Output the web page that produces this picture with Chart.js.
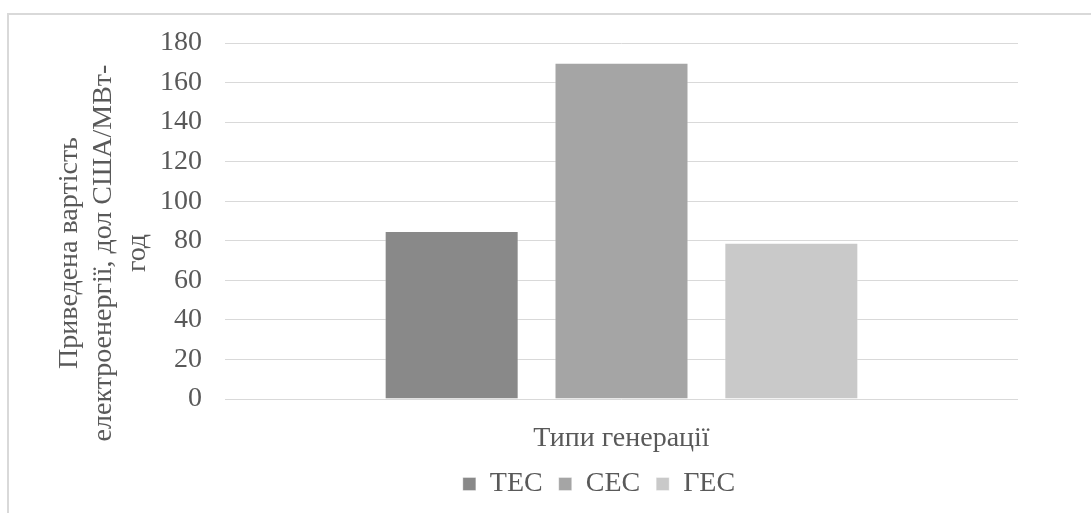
<!DOCTYPE html>
<html>
<head>
<meta charset="utf-8">
<script src="https://cdn.jsdelivr.net/npm/chart.js@4/dist/chart.umd.min.js"></script>
<style>
  html, body { margin: 0; padding: 0; background: #ffffff; overflow: hidden; }
  #frame { position: absolute; left: 7px; top: 13px; width: 1300px; height: 700px; border: 2px solid #d9d9d9; box-sizing: border-box; }
  #wrap { position: absolute; left: 0; top: 0; width: 1198px; height: 513px; }
</style>
</head>
<body>
<div id="frame"></div>
<div id="wrap"><canvas id="chart"></canvas></div>
<script>
// Levelised cost of electricity by generation type
const categories = ['Типи генерації'];
const seriesNames = ['ТЕС', 'СЕС', 'ГЕС'];
const seriesValues = [[85], [170], [79]];
const seriesColors = ['#898989', '#a5a5a5', '#c9c9c9'];
const yTickMin = 0;
const yTickMax = 180;
const yTickStep = 20;
const yTitleLines = ['Приведена вартість', 'електроенергії, дол США/МВт-', 'год'];

const FONT = "'Liberation Serif', 'Times New Roman', serif";
const TEXT = '#595959';

// Rotated, multi-line value-axis title
const yTitlePlugin = {
  id: 'yTitle',
  afterDraw(chart) {
    const ctx = chart.ctx;
    ctx.save();
    ctx.fillStyle = TEXT;
    ctx.font = '28px ' + FONT;
    ctx.textAlign = 'center';
    ctx.textBaseline = 'middle';
    const cy = 253;
    const x0 = 70, step = 34;
    yTitleLines.forEach((line, i) => {
      ctx.save();
      ctx.translate(x0 + i * step, cy);
      ctx.rotate(-Math.PI / 2);
      ctx.fillText(line, 0, 0);
      ctx.restore();
    });
    ctx.restore();
  }
};

new Chart(document.getElementById('chart'), {
  type: 'bar',
  data: {
    labels: categories,
    datasets: seriesNames.map((name, i) => ({
      label: name,
      data: seriesValues[i],
      backgroundColor: seriesColors[i],
      borderColor: 'rgba(255,255,255,0.35)',
      borderWidth: 1,
      barPercentage: 0.789,
      categoryPercentage: 0.6425
    }))
  },
  options: {
    responsive: true,
    maintainAspectRatio: false,
    animation: false,
    events: [],
    layout: { padding: { left: 0, right: 0, top: 43, bottom: 5 } },
    plugins: {
      tooltip: { enabled: false },
      title: { display: false },
      legend: {
        position: 'bottom',
        labels: {
          color: TEXT,
          font: { family: FONT, size: 28 },
          boxWidth: 13,
          boxHeight: 13,
          padding: 16
        }
      }
    },
    scales: {
      x: {
        grid: { display: false, drawTicks: false },
        border: { display: false },
        ticks: { color: TEXT, font: { family: FONT, size: 28 }, padding: 23 },
        afterFit(scale) { scale.height = 55; }
      },
      y: {
        min: yTickMin,
        max: yTickMax,
        grid: { color: '#d9d9d9', lineWidth: 1, drawTicks: false },
        border: { display: false },
        ticks: {
          stepSize: yTickStep,
          color: TEXT,
          font: { family: FONT, size: 28 },
          padding: 23
        },
        afterFit(scale) { scale.width = 225; }
      },
      // empty right-hand margin inside the chart frame
      yRight: {
        position: 'right',
        min: yTickMin,
        max: yTickMax,
        grid: { display: false, drawTicks: false },
        border: { display: false },
        ticks: { display: false },
        afterFit(scale) { scale.width = 180; }
      }
    }
  },
  plugins: [yTitlePlugin]
});
</script>
</body>
</html>
